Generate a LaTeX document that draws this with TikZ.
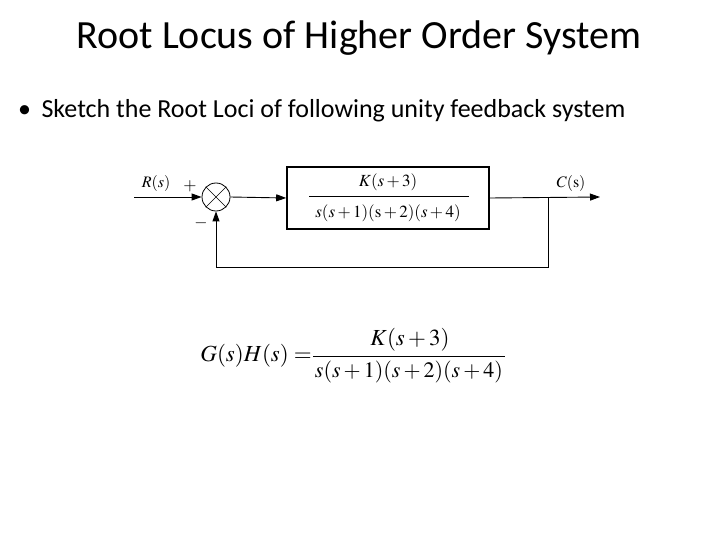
\documentclass[tikz,border=0pt]{standalone}
\usepackage{mathptmx}
\usepackage[no-math]{fontspec}
\setmainfont{Carlito}
\usetikzlibrary{arrows.meta}
\begin{document}
\begin{tikzpicture}[x=1pt,y=-1pt,
  sig/.style={line width=0.9pt,-{Triangle[length=10pt,width=7pt]}},
  wire/.style={line width=0.9pt},
  lbl/.style={inner sep=0pt,font=\fontsize{17}{20}\selectfont}]
\useasboundingbox (0,0) rectangle (720,540);
\node[inner sep=0pt,font=\fontsize{40}{46}\selectfont] (title) at (359,38) {Root Locus of Higher Order System};
\node[inner sep=0pt,anchor=west,font=\fontsize{26}{30}\selectfont] (bullet) at (18,111) {•\hspace{0.4em}Sketch the Root Loci of following unity feedback system};
% block diagram
\coordinate (in) at (134,197);
\node[draw,circle,line width=0.8pt,minimum size=28pt,inner sep=0pt] (sum) at (216,197) {};
\draw[line width=0.6pt] (sum.north west) -- (sum.south east) (sum.north east) -- (sum.south west);
\node[lbl,font=\fontsize{16}{18}\selectfont] (R) at (156,184) {$R(s)$};
\node[lbl] (plus) at (190,186) {$+$};
\node[lbl] (minus) at (201,223) {$-$};
\node[draw,line width=1.6pt,minimum width=202pt,minimum height=62pt,inner sep=0pt] (G) at (388,198) {};
\node[lbl] (num) at (388,182) {$K(s+3)$};
\draw[line width=0.8pt] (309,196) -- (469,196);
\node[lbl] (den) at (388,213) {$s(s+1)(\mathrm{s}+2)(s+4)$};
\coordinate (out) at (600,197);
\coordinate (br) at (548,197);
\coordinate (fb1) at (548,267);
\coordinate (fb2) at (216,267);
\node[lbl,font=\fontsize{16}{18}\selectfont] (C) at (571,184) {$C(\mathrm{s})$};
\draw[sig] (in) -- (sum.west);
\draw[sig] (sum.east) -- (G.west);
\draw[sig] (G.east) -- (out);
\draw[wire] (br) -- (fb1) -- (fb2);
\draw[sig] (fb2) -- (sum.south);
% equation
\node[inner sep=0pt,anchor=east,font=\fontsize{23}{26}\selectfont] (lhs) at (312,356) {$G(s)H(s)=$};
\node[inner sep=0pt,font=\fontsize{23}{26}\selectfont] (enum) at (410,340) {$K(s+3)$};
\node[inner sep=0pt,font=\fontsize{22}{26}\selectfont] (eden) at (409,372) {$s(s+1)(s+2)(s+4)$};
\draw[line width=0.8pt] (313,356) -- (505,356);
\end{tikzpicture}
\end{document}
